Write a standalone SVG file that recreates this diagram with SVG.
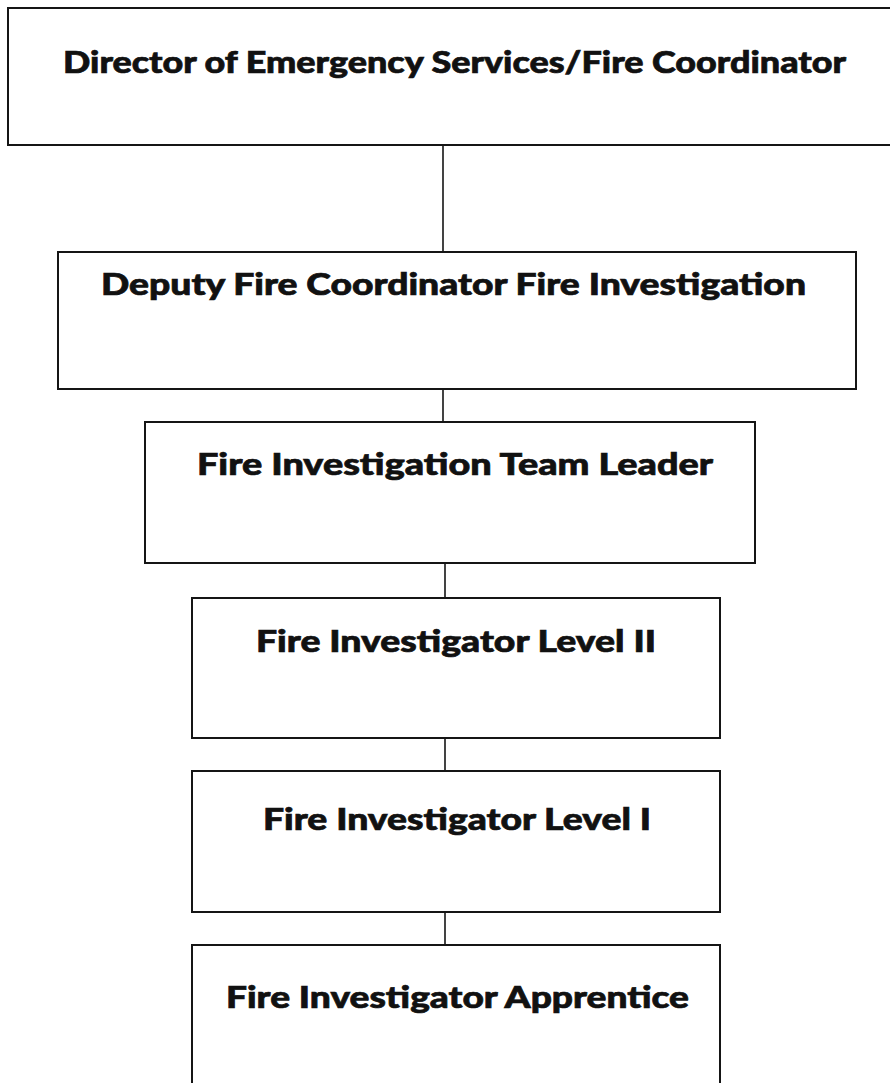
<svg xmlns="http://www.w3.org/2000/svg" width="890" height="1083" viewBox="0 0 890 1083">
<style>
.box{fill:#fff;stroke:#151515;stroke-width:2}
.conn{stroke:#151515;stroke-width:1.6;fill:none}
.lbl{font-family:Lato,"Open Sans","Liberation Sans",sans-serif;font-weight:900;font-size:30px;fill:#111;stroke:#111;stroke-width:0.7;text-anchor:middle}
</style>
<rect width="890" height="1083" fill="#fff"/>
<g id="connectors">
<line class="conn" x1="443" y1="145" x2="443" y2="252"/>
<line class="conn" x1="443" y1="389" x2="443" y2="422"/>
<line class="conn" x1="445" y1="563" x2="445" y2="598"/>
<line class="conn" x1="445" y1="738" x2="445" y2="771"/>
<line class="conn" x1="445" y1="912" x2="445" y2="945"/>
</g>
<g id="director">
<rect class="box" x="8" y="8" width="900" height="137"/>
<text class="lbl" x="454.5" y="73" textLength="783" lengthAdjust="spacingAndGlyphs">Director of Emergency Services/Fire Coordinator</text>
</g>
<g id="deputy">
<rect class="box" x="58" y="252" width="798" height="137"/>
<text class="lbl" x="453.5" y="295" textLength="705" lengthAdjust="spacingAndGlyphs">Deputy Fire Coordinator Fire Investigation</text>
</g>
<g id="team-leader">
<rect class="box" x="145" y="422" width="610" height="141"/>
<text class="lbl" x="455" y="475" textLength="516" lengthAdjust="spacingAndGlyphs">Fire Investigation Team Leader</text>
</g>
<g id="level2">
<rect class="box" x="192" y="598" width="528" height="140"/>
<text class="lbl" x="456" y="652" textLength="400" lengthAdjust="spacingAndGlyphs">Fire Investigator Level II</text>
</g>
<g id="level1">
<rect class="box" x="192" y="771" width="528" height="141"/>
<text class="lbl" x="457" y="830" textLength="388" lengthAdjust="spacingAndGlyphs">Fire Investigator Level I</text>
</g>
<g id="apprentice">
<rect class="box" x="192" y="945" width="528" height="160"/>
<text class="lbl" x="457.5" y="1008" textLength="463" lengthAdjust="spacingAndGlyphs">Fire Investigator Apprentice</text>
</g>
</svg>
